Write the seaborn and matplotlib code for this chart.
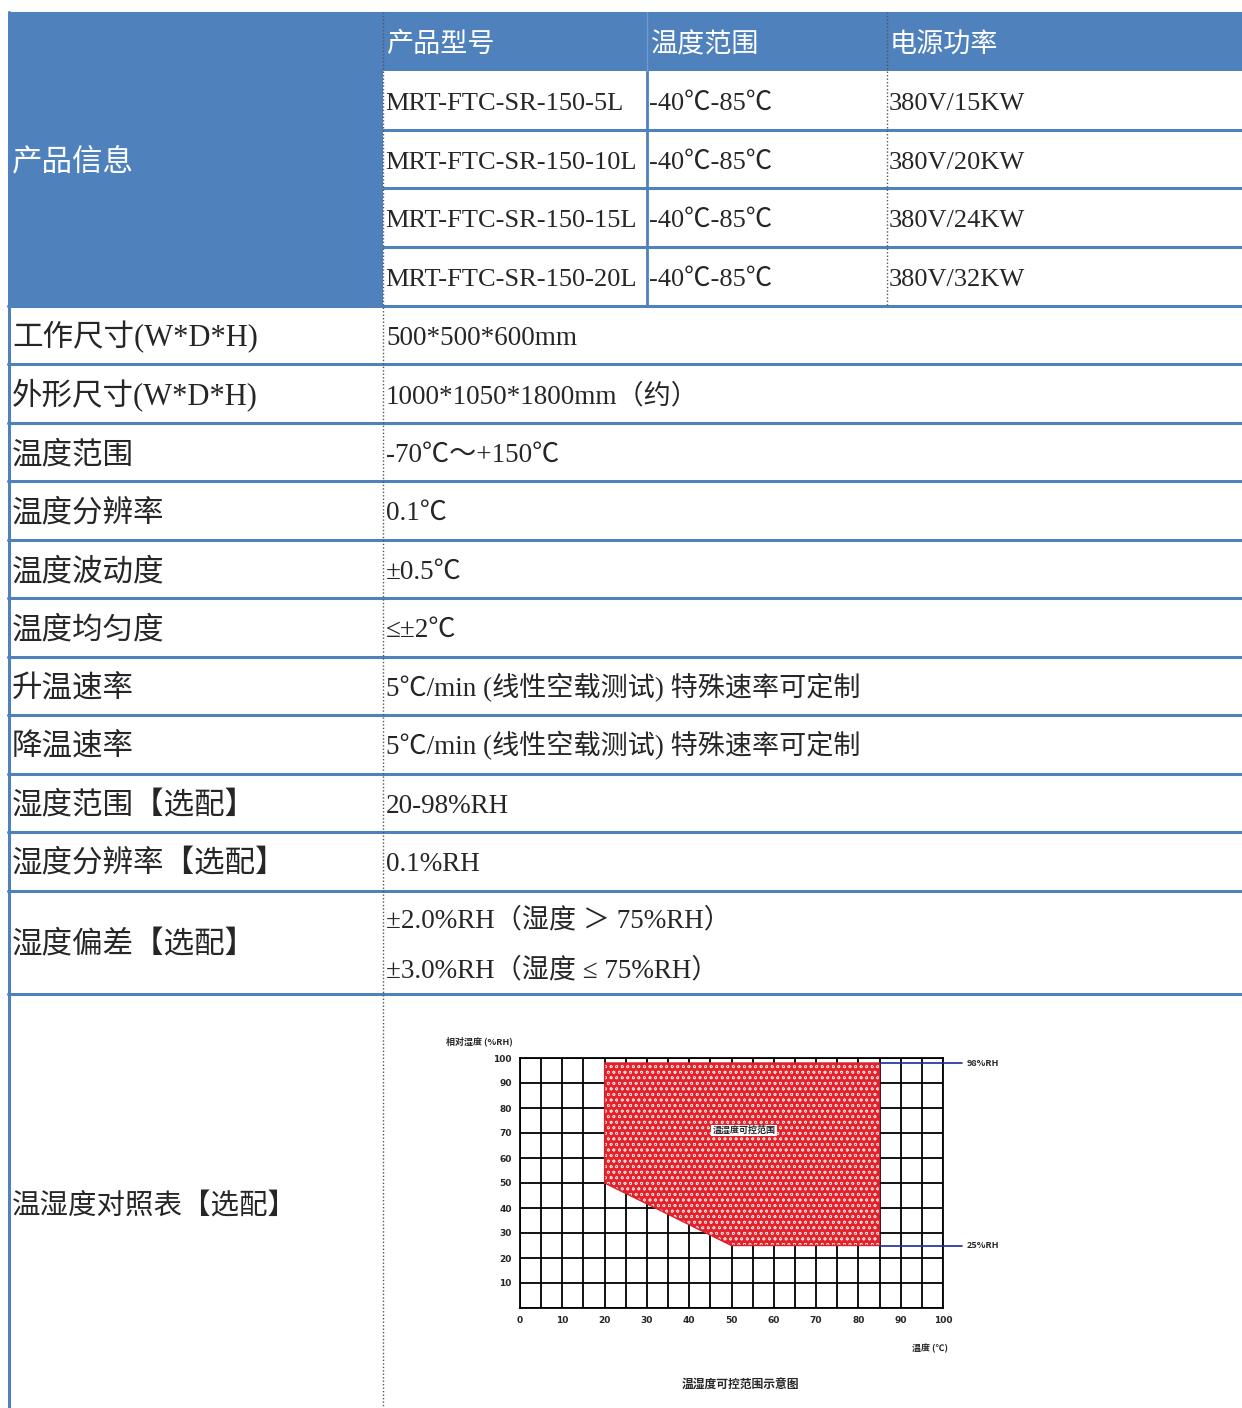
import numpy as np
import matplotlib.pyplot as plt
import matplotlib.patches as mpatches
import seaborn as sns

sns.set_theme(style='white')
plt.rcParams['font.family'] = ['Liberation Serif', 'Noto Sans CJK SC', 'DejaVu Sans']
plt.rcParams['hatch.linewidth'] = 0.5

# --- data --- #
header_left = '产品信息'
header_cols = ['产品型号', '温度范围', '电源功率']
models = ['MRT-FTC-SR-150-5L', 'MRT-FTC-SR-150-10L', 'MRT-FTC-SR-150-15L', 'MRT-FTC-SR-150-20L']
model_temps = ['-40℃-85℃', '-40℃-85℃', '-40℃-85℃', '-40℃-85℃']
model_power = ['380V/15KW', '380V/20KW', '380V/24KW', '380V/32KW']

row_labels = ['工作尺寸(W*D*H)', '外形尺寸(W*D*H)', '温度范围', '温度分辨率', '温度波动度',
              '温度均匀度', '升温速率', '降温速率', '湿度范围【选配】', '湿度分辨率【选配】',
              '湿度偏差【选配】', '温湿度对照表【选配】']
row_values = ['500*500*600mm', '1000*1050*1800mm（约）', '-70℃～+150℃', '0.1℃', '±0.5℃',
              '≤±2℃', '5℃/min (线性空载测试) 特殊速率可定制', '5℃/min (线性空载测试) 特殊速率可定制',
              '20-98%RH', '0.1%RH', ['±2.0%RH（湿度 ＞ 75%RH）', '±3.0%RH（湿度 ≤ 75%RH）'], []]

# controllable range of the humidity chart
range_temp = [20, 20, 85, 85, 50, 20]
range_rh = [50, 98, 98, 25, 25, 50]
limit_rh = [98, 25]
limit_labels = ['98%RH', '25%RH']
x_ticks = [0, 10, 20, 30, 40, 50, 60, 70, 80, 90, 100]
y_ticks = [10, 20, 30, 40, 50, 60, 70, 80, 90, 100]

# --- layout (pixels) --- #
W, H = 1242, 1408
blue = '#4f81bd'
top = 12
left = 8
col_x = [383, 647, 887]
header_h = 59
model_h = 58.7
row_h = [58.5] * 10 + [103, 420]


def put(ax, x, yc, s, fs, **kw):
    # place text so the CJK ideograph box is centred on yc (pixel coords, y down)
    base = yc + 0.36 * fs * 100 / 72
    ax.text(x, base, s, fontsize=fs, va='baseline', ha='left', **kw)


fig = plt.figure(figsize=(W / 100, H / 100), dpi=100)
ax = fig.add_axes([0, 0, 1, 1])
ax.set_xlim(0, W)
ax.set_ylim(H, 0)
ax.axis('off')

# blue header blocks
ax.add_patch(mpatches.Rectangle((left, top), W - left, header_h, color=blue, lw=0))
block_bottom = top + header_h + model_h * len(models)
ax.add_patch(mpatches.Rectangle((left, top), col_x[0] - left, block_bottom - top, color=blue, lw=0))

put(ax, 12, (top + block_bottom) / 2, header_left, 22, color='white')
for cx, lab in zip(col_x, header_cols):
    put(ax, cx + 3, top + header_h / 2 + 1, lab, 19.5, color='white')

# model rows
for i, (m, t, p) in enumerate(zip(models, model_temps, model_power)):
    yc = top + header_h + model_h * (i + 0.5)
    put(ax, col_x[0] + 2, yc, m, 19)
    put(ax, col_x[1] + 2, yc, t, 19)
    put(ax, col_x[2] + 2, yc, p, 19)
    if i > 0:
        yl = top + header_h + model_h * i
        ax.plot([col_x[0], W], [yl, yl], color=blue, lw=2.2)

# spec rows
y = block_bottom
for lab, val, rh in zip(row_labels, row_values, row_h):
    ax.plot([left, W], [y, y], color=blue, lw=2.2)
    fs = 20.5 if lab.startswith('温湿度对照表') else 22
    put(ax, 12, y + rh / 2, lab, fs)
    lines = val if isinstance(val, list) else [val]
    n = len(lines)
    for k, s in enumerate(lines):
        yc = y + rh / 2 + (k - (n - 1) / 2) * 50
        put(ax, col_x[0] + 3, yc, s, 19.5)
    y += rh

# vertical rules
ax.plot([9, 9], [top, H], color=blue, lw=2.2)
ax.plot([col_x[0], col_x[0]], [top, H], color='#555555', lw=1, ls=(0, (1, 1.5)))
ax.plot([col_x[2], col_x[2]], [top, block_bottom], color='#555555', lw=1, ls=(0, (1, 1.5)))
ax.plot([col_x[1], col_x[1]], [top + header_h, block_bottom], color=blue, lw=2)
ax.plot([col_x[1], col_x[1]], [top, top + header_h], color='#6f98cc', lw=1)

# --- humidity chart inset --- #
cx0, cx1, cy0, cy1 = 520, 943, 1308, 1058
cax = fig.add_axes([cx0 / W, 1 - cy0 / H, (cx1 - cx0) / W, (cy0 - cy1) / H])
cax.set_xlim(0, 100)
cax.set_ylim(0, 100)
cax.set_facecolor('white')
for v in range(0, 101, 5):
    cax.axvline(v, color='black', lw=1.3, zorder=1)
for v in range(0, 101, 10):
    cax.axhline(v, color='black', lw=1.3, zorder=1)

cax.fill(range_temp, range_rh, facecolor='#e4222c', edgecolor='#ffd6d6', hatch='ooo', lw=0, zorder=2)
sns.lineplot(x=range_temp, y=range_rh, sort=False, estimator=None, ax=cax, color='#d8202a',
             lw=1.0, zorder=3)

for rh, lab in zip(limit_rh, limit_labels):
    cax.plot([85, 104.5], [rh, rh], color='#1a2aa0', lw=1.2, clip_on=False, zorder=4)
    cax.text(105.5, rh, lab, fontsize=6.5, fontweight='bold', va='center', ha='left',
             family=['Noto Sans CJK SC'])

cax.text(53, 71, '温湿度可控范围', fontsize=6.5, fontweight='bold', ha='center', va='center',
         family=['Noto Sans CJK SC'], zorder=5,
         bbox=dict(facecolor='white', edgecolor='none', pad=1))

cax.set_xticks(x_ticks)
cax.set_yticks(y_ticks)
cax.set_xticklabels([str(v) for v in x_ticks], fontsize=6.5, fontweight='bold', family=['DejaVu Sans'])
cax.set_yticklabels([str(v) for v in y_ticks], fontsize=6.5, fontweight='bold', family=['DejaVu Sans'])
cax.tick_params(length=0, pad=6)
for s in cax.spines.values():
    s.set_color('black')
    s.set_linewidth(1.3)

cax.text(-17.5, 106.8, '相对湿度 (%RH)', fontsize=6.5, fontweight='bold', ha='left', va='center',
         family=['Noto Sans CJK SC'])
cax.text(97, -16, '温度 (℃)', fontsize=6.5, fontweight='bold', ha='center', va='center',
         family=['Noto Sans CJK SC'])
cax.text(52, -31, '温湿度可控范围示意图', fontsize=8.5, fontweight='bold', ha='center', va='center',
         family=['Noto Sans CJK SC'])

fig.savefig('out.png', dpi=100)
